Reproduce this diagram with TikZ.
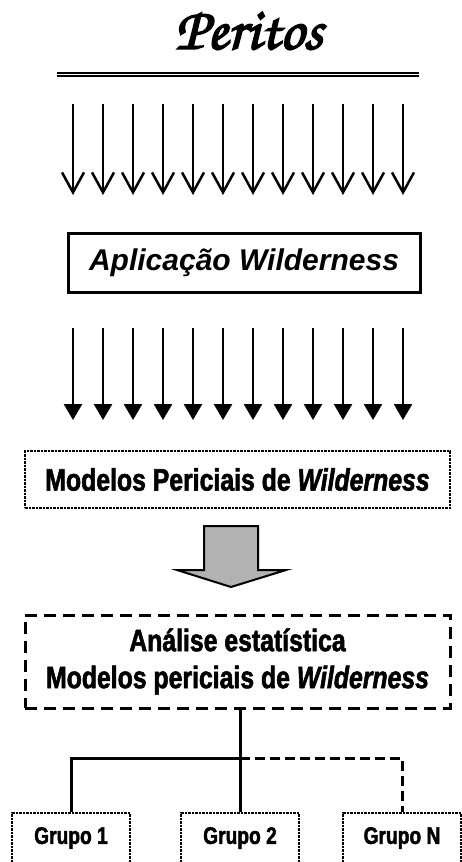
\documentclass[tikz,border=0pt]{standalone}
\usepackage[T1]{fontenc}
\usepackage{fontspec}
\usetikzlibrary{arrows.meta}
\newfontfamily\arialfont{Liberation Sans}
\newfontfamily\condfont[FakeStretch=0.8, FakeBold=1.8,
    UprightFont={* Bold}, ItalicFont={* Bold Italic}]{Liberation Sans}
\newcommand{\chancery}{\fontencoding{T1}\fontfamily{pzc}\fontseries{mb}\fontshape{it}\selectfont}
% texto com contorno, para engrossar o titulo
\newcommand{\heavy}[1]{\special{pdf:literal 2 Tr 1.6 w}#1\special{pdf:literal 0 Tr}}

\begin{document}
\begin{tikzpicture}[x=1pt, y=-1pt,
    openarrow/.style={line width=2.5pt, -{Straight Barb[length=20pt,width=22pt,line width=2.5pt]}},
    fullarrow/.style={line width=2.5pt, -{Triangle[length=16pt,width=18pt]}},
    grupo/.style={draw, densely dotted, line width=2.5pt,
          minimum width=118pt, minimum height=50pt,
          font=\condfont\fontsize{24}{28}\selectfont},
    tree/.style={line width=3pt}]
    \useasboundingbox (0,0) rectangle (462,862);
    \clip (0,0) rectangle (462,862);

    \node (title) at (249,31) {\chancery\fontsize{60}{66}\selectfont\heavy{Peritos}};
    \draw[line width=2.2pt, double distance=1.2pt] (57,74.5) -- (419,74.5);

    \foreach \x in {0,...,11}
        \draw[openarrow] (73+30*\x,104) -- (73+30*\x,195);

    \node[draw,
          line width=3pt,
          minimum width=352pt,
          minimum height=59pt,
          font=\arialfont\bfseries\itshape\fontsize{30}{34}\selectfont] (app) at (244,262.5) {Aplicação Wilderness};

    \foreach \x in {0,...,11}
        \draw[fullarrow] (73+30*\x,328) -- (73+30*\x,420);

    \node[draw,
          densely dotted,
          line width=2.5pt,
          minimum width=425pt,
          minimum height=57pt,
          font=\condfont\fontsize{31}{36}\selectfont] (mod) at (237.5,479.5) {Modelos Periciais de {\itshape Wilderness}};

    % seta larga
    \draw[line width=2pt, fill=black!30]
        (204,526) -- (258,526) -- (258,570) -- (286,570) -- (231,587) -- (177,570) -- (204,570) -- cycle;

    \node[draw,
          dash pattern=on 12pt off 7pt,
          line width=3pt,
          minimum width=425pt,
          minimum height=93pt,
          align=center,
          font=\condfont\fontsize{31}{37}\selectfont] (ana) at (237.5,661.5) {Análise estatística\\Modelos periciais de {\itshape Wilderness}};

    \node[grupo] (g1) at (71,838) {Grupo 1};
    \node[grupo] (g2) at (240,838) {Grupo 2};
    \node[grupo] (gN) at (402,838) {Grupo N};

    \coordinate (jn) at (240,758);
    \draw[tree] (ana.south -| jn) -- (jn) -- (g2.north);
    \draw[tree] (jn) -| (g1.north);
    \draw[tree, dash pattern=on 10pt off 5pt] (jn) -| (gN.north);
\end{tikzpicture}
\end{document}
